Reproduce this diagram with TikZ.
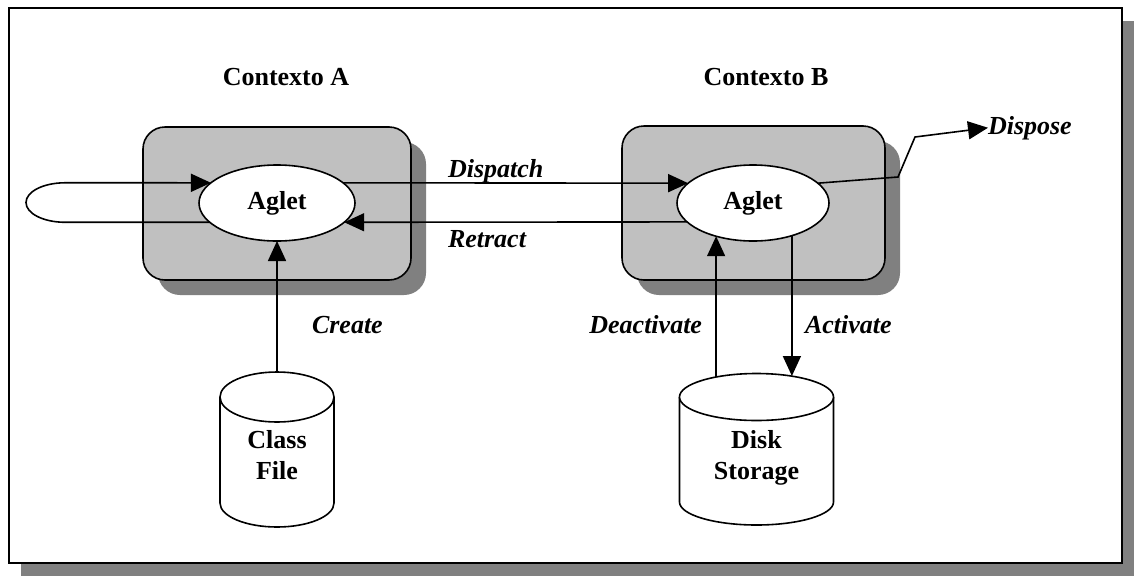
\documentclass[tikz,border=0pt]{standalone}
\usepackage{fontspec}
\setmainfont{Liberation Serif}
\usetikzlibrary{arrows.meta,shapes.geometric,calc}
\definecolor{boxgray}{HTML}{C0C0C0}
\definecolor{shadowgray}{HTML}{808080}
\begin{document}
\begin{tikzpicture}[x=1pt,y=-1pt,
  bigfont/.style={font=\fontsize{26}{31.5}\selectfont\bfseries},
  lbl/.style={bigfont, inner sep=0pt, outer sep=0pt},
  ilbl/.style={font=\fontsize{26}{31.5}\selectfont\bfseries\itshape, inner sep=0pt, outer sep=0pt},
  ctx/.style={fill=boxgray, draw=black, line width=1.6pt, rounded corners=22pt},
  shd/.style={fill=shadowgray, rounded corners=22pt},
  agl/.style={ellipse, draw=black, fill=white, line width=1.6pt, inner sep=0pt, outer sep=0pt, bigfont, minimum height=76pt},
  cyl/.style={draw=black, line width=1.6pt},
  conn/.style={draw=black, line width=1.6pt},
  arr/.style={conn, -{Triangle[length=20pt,width=18pt]}},
]
\useasboundingbox (0,0) rectangle (1134,576);
% outer frame
\fill[shadowgray] (21,21) rectangle (1134,576);
\draw[fill=white, line width=2.5pt] (9,8) rectangle (1122,563);
% context boxes
\fill[shd] (158,142) rectangle (426,295);
\draw[ctx] (143,127) rectangle (411,280);
\fill[shd] (637,141) rectangle (900,295);
\draw[ctx] (622,126) rectangle (885,280);
% titles
\node[lbl, anchor=base] (ctxA) at (286,85) {Contexto A};
\node[lbl, anchor=base] (ctxB) at (766,85) {Contexto B};
% aglets
\node[agl, minimum width=156pt] (agA) at (277,203) {Aglet};
\node[agl, minimum width=152pt] (agB) at (753,203) {Aglet};
% cylinders
\draw[cyl, fill=white] (220,397) -- (220,503) arc[start angle=180, end angle=360, x radius=57pt, y radius=24pt] -- (334,397);
\draw[cyl, fill=white] (277,397) ellipse [x radius=57pt, y radius=25pt];
\node[lbl, align=center, anchor=north] (cls) at (277,430.4) {Class\\File};
\coordinate (clsTop) at (277,372);
\draw[cyl, fill=white] (679.5,397) -- (679.5,502) arc[start angle=180, end angle=360, x radius=77pt, y radius=23pt] -- (833.5,397);
\draw[cyl, fill=white] (756.5,397) ellipse [x radius=77pt, y radius=23.5pt];
\node[lbl, align=center, anchor=north] (dsk) at (756.5,430.4) {Disk\\Storage};
\coordinate (dskY1) at (0,377);
\coordinate (dskY2) at (0,376);
% labels
\node[ilbl, anchor=base west] (dispatch) at (448,177) {Dispatch};
\node[ilbl, anchor=base west] (retract) at (448,247) {Retract};
\node[ilbl, anchor=base west] (create) at (312,333) {Create};
\node[ilbl, anchor=base east] (deact) at (702,333) {Deactivate};
\node[ilbl, anchor=base west] (act) at (805,333) {Activate};
\node[ilbl, anchor=base west] (disp) at (988,134) {Dispose};
% connectors
\coordinate (lx) at (65,0);
\draw[arr] (agA.196) -- (agA.196 -| lx) arc[start angle=270, end angle=90, x radius=39pt, y radius=19.75pt] -- (agA.163);
\draw[arr] (agA.17) -- (agB.163);
\draw[arr] (agB.196) -- (agA.344);
\draw[arr] (clsTop) -- (agA.south);
\draw[arr] (agB.222 |- dskY1) -- (agB.222);
\draw[arr] (agB.320) -- (agB.320 |- dskY2);
\coordinate (d1) at (898,177);
\coordinate (d2) at (915,137);
\draw[arr] (agB.17) -- (d1) -- (d2) -- (disp.west);
\end{tikzpicture}
\end{document}
